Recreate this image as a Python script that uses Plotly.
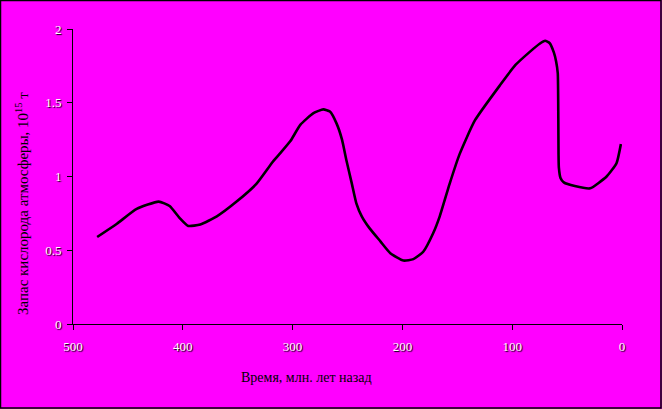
import plotly.graph_objects as go

# Time, Myr ago
time_myr = [478, 460, 442, 422, 412, 403, 395, 384, 369, 351, 333, 318, 311, 302, 293, 281,
            272, 266, 260, 255, 251, 246, 242, 237, 230, 220, 211, 199, 190, 181, 172, 166,
            157, 148, 134, 111, 97, 84, 75, 70, 66, 62, 60, 58.5, 58, 57.8, 57.5, 56, 53,
            43, 29, 14, 5, 1]
# Atmospheric oxygen stock, 10^15 t
oxygen = [0.59, 0.68, 0.78, 0.83, 0.80, 0.72, 0.665, 0.675, 0.73, 0.83, 0.95, 1.10, 1.16,
          1.24, 1.35, 1.43, 1.455, 1.44, 1.36, 1.25, 1.11, 0.95, 0.82, 0.73, 0.65, 0.56,
          0.48, 0.43, 0.44, 0.49, 0.615, 0.73, 0.95, 1.15, 1.38, 1.62, 1.756, 1.845, 1.90,
          1.92, 1.905, 1.84, 1.78, 1.70, 1.40, 1.15, 1.06, 0.99, 0.96, 0.935, 0.92, 1.0,
          1.09, 1.22]

x_ticks = [500, 400, 300, 200, 100, 0]
y_ticks = [0, 0.5, 1, 1.5, 2]
y_tick_labels = ["0", "0.5", "1", "1.5", "2"]
x_title = "Время, млн. лет назад"
y_title = "Запас кислорода атмосферы, 10<sup>15</sup> т"

fig = go.Figure()
fig.add_trace(go.Scatter(
    x=time_myr, y=oxygen, mode="lines",
    line=dict(color="black", width=2.6, shape="spline", smoothing=0.5),
    showlegend=False, hoverinfo="skip",
))

tickfont = dict(family="Liberation Serif", size=13, color="white",
                shadow="1px 1px 1px black")
titlefont = dict(family="Liberation Serif", size=14, color="black")

fig.update_layout(
    width=662, height=409,
    paper_bgcolor="#FF00FF", plot_bgcolor="#FF00FF",
    margin=dict(l=73, r=40, t=29, b=85),
    xaxis=dict(range=[500, 0], tickvals=x_ticks, ticks="outside", ticklen=5,
               tickcolor="black", showline=True, linecolor="black", linewidth=1,
               showgrid=False, zeroline=False, tickfont=tickfont, ticklabelstandoff=5),
    yaxis=dict(range=[0, 2], tickvals=y_ticks, ticktext=y_tick_labels, ticks="outside",
               ticklen=5, tickcolor="black", showline=True, linecolor="black", linewidth=1,
               showgrid=False, zeroline=False, tickfont=tickfont, ticklabelstandoff=3),
    annotations=[
        dict(text=x_title, xref="paper", yref="paper", x=(306 - 73) / 549, y=-53 / 295,
             xanchor="center", yanchor="middle", showarrow=False, font=titlefont),
        dict(text=y_title, xref="paper", yref="paper", x=-51 / 549, y=(324 - 204) / 295,
             xanchor="center", yanchor="middle", showarrow=False, textangle=-90,
             font=dict(family="Liberation Serif", size=15, color="black")),
    ],
    shapes=[dict(type="rect", xref="paper", yref="paper",
                 x0=-73/549 + 0.5/549, x1=(661 - 73)/549, y0=-84/295, y1=1 + 28.5/295,
                 line=dict(color="black", width=1.5), fillcolor="rgba(0,0,0,0)",
                 layer="above")],
)

fig.write_html("out.html", config={"displayModeBar": False},
               post_script="document.body.style.margin='0';")
